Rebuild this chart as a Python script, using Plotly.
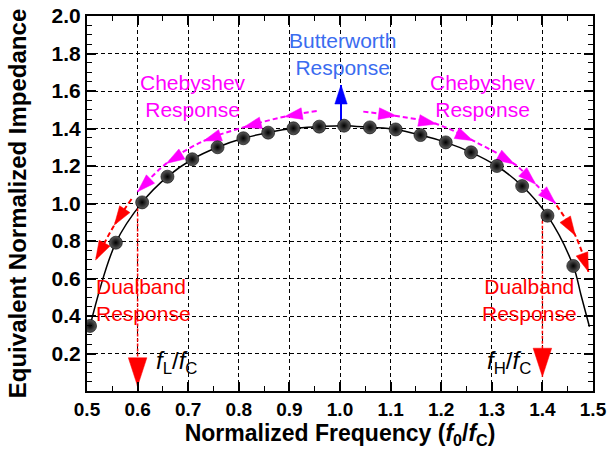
import plotly.graph_objects as go

# ---- data ----
freq = [0.506, 0.557, 0.609, 0.659, 0.708, 0.758, 0.809, 0.858, 0.908, 0.959,
        1.008, 1.059, 1.110, 1.159, 1.209, 1.259, 1.310, 1.360, 1.410, 1.461]
imp = [0.347, 0.791, 1.006, 1.143, 1.236, 1.300, 1.348, 1.378, 1.401, 1.410,
       1.415, 1.406, 1.395, 1.365, 1.326, 1.273, 1.200, 1.093, 0.935, 0.667]
curve_tail_x = [1.476, 1.493]
curve_tail_y = [0.515, 0.343]

cheb_left_x = [0.954, 0.890, 0.809, 0.730, 0.657, 0.600]
cheb_left_y = [1.493, 1.463, 1.406, 1.333, 1.214, 1.063]
cheb_right_x = [1.046, 1.112, 1.191, 1.263, 1.345, 1.387, 1.426]
cheb_right_y = [1.490, 1.467, 1.424, 1.335, 1.210, 1.102, 1.000]
dual_left_x = [0.588, 0.554, 0.517]
dual_left_y = [1.024, 0.885, 0.699]
dual_right_x = [1.428, 1.465, 1.491]
dual_right_y = [0.990, 0.830, 0.636]
fl_x = [0.6, 0.6]
fl_y = [1.0, 0.025]
fh_x = [1.4, 1.4]
fh_y = [0.935, 0.076]
butter_x = [1.002, 1.002]
butter_y = [1.43, 1.632]

x_ticks = [0.5, 0.6, 0.7, 0.8, 0.9, 1.0, 1.1, 1.2, 1.3, 1.4, 1.5]
x_ticktext = ["0.5", "0.6", "0.7", "0.8", "0.9", "1.0", "1.1", "1.2", "1.3", "1.4", "1.5"]
y_ticks = [0.2, 0.4, 0.6, 0.8, 1.0, 1.2, 1.4, 1.6, 1.8, 2.0]
y_ticktext = ["0.2", "0.4", "0.6", "0.8", "1.0", "1.2", "1.4", "1.6", "1.8", "2.0"]

MAGENTA = "#ff00ff"
RED = "#ff0000"
BLUE_TXT = "#3a6cf0"
BLUE = "#0000ff"
FONT = "Liberation Sans, Arial, sans-serif"

fig = go.Figure()

# smooth curve
fig.add_trace(go.Scatter(
    x=freq + curve_tail_x, y=imp + curve_tail_y, mode="lines",
    line=dict(color="black", width=1.5, shape="spline"),
    hoverinfo="skip", showlegend=False))


def arrow_path(xs, ys, color, head, width, dash):
    sizes = [0] + [head] * (len(xs) - 1)
    fig.add_trace(go.Scatter(
        x=xs, y=ys, mode="lines+markers",
        line=dict(color=color, width=width, dash=dash, shape="spline"),
        marker=dict(symbol="arrow", size=sizes, color=color, opacity=1,
                    angleref="previous", line=dict(width=0.5, color=color)),
        hoverinfo="skip", showlegend=False))


arrow_path(cheb_left_x, cheb_left_y, MAGENTA, 19, 2, "5px,3px")
arrow_path(cheb_right_x, cheb_right_y, MAGENTA, 19, 2, "5px,3px")
arrow_path(dual_left_x, dual_left_y, RED, 20, 2, "5px,3px")
arrow_path(dual_right_x, dual_right_y, RED, 20, 2, "5px,3px")
arrow_path(fl_x, fl_y, RED, 30, 1.5, "3px,2px")
arrow_path(fh_x, fh_y, RED, 30, 1.5, "3px,2px")
arrow_path(butter_x, butter_y, BLUE, 20, 2, "solid")

# data markers (spheres)
fig.add_trace(go.Scatter(
    x=freq, y=imp, mode="markers",
    marker=dict(size=13, color="#5c5c5c",
                gradient=dict(type="radial", color="black"),
                line=dict(color="black", width=0.6)),
    hoverinfo="skip", showlegend=False))

annots = [
    dict(x=1.005, y=1.797, text="Butterworth<br>Response", color=BLUE_TXT, xanchor="center", size=21),
    dict(x=0.710, y=1.571, text="Chebyshev<br>Response", color=MAGENTA, xanchor="center", size=21),
    dict(x=1.282, y=1.571, text="Chebyshev<br>Response", color=MAGENTA, xanchor="center", size=21),
    dict(x=0.513, y=0.485, text="Dualband<br>Response", color=RED, xanchor="left", size=21),
    dict(x=1.374, y=0.485, text="Dualband<br>Response", color=RED, xanchor="center", size=21),
    dict(x=0.677, y=0.15, text="<i>f</i><sub>L</sub>/<i>f</i><sub>C</sub>", color="black", xanchor="center", size=24),
    dict(x=1.334, y=0.15, text="<i>f</i><sub>H</sub>/<i>f</i><sub>C</sub>", color="black", xanchor="center", size=24),
]
for a in annots:
    fig.add_annotation(x=a["x"], y=a["y"], xref="x", yref="y", text=a["text"],
                       showarrow=False, xanchor=a["xanchor"], yanchor="middle",
                       align="center" if a["xanchor"] == "center" else "left",
                       font=dict(family=FONT, size=a["size"], color=a["color"]))

axis_common = dict(
    showline=True, linecolor="black", linewidth=2, mirror="ticks",
    ticks="inside", ticklen=9, tickwidth=1.5, tickcolor="black",
    showgrid=True, gridcolor="black", gridwidth=1, griddash="4px,3px",
    zeroline=False,
)

fig.update_xaxes(
    range=[0.5, 1.5], tickmode="array", tickvals=x_ticks, ticktext=x_ticktext,
    tickfont=dict(family=FONT, size=19, color="black", weight="bold"),
    minor=dict(tickmode="linear", tick0=0.5, dtick=0.05, ticks="inside",
               ticklen=5, tickwidth=1.2, tickcolor="black", showgrid=False),
    title=dict(text="Normalized Frequency (<i>f</i><sub>0</sub>/<i>f</i><sub>C</sub>)",
               font=dict(family=FONT, size=23, color="black", weight="bold"),
               standoff=3),
    automargin=False,
    **axis_common)

fig.update_yaxes(
    range=[0, 2.0], tickmode="array", tickvals=y_ticks, ticktext=y_ticktext,
    tickfont=dict(family=FONT, size=21, color="black", weight="bold"),
    minor=dict(tickmode="linear", tick0=0, dtick=0.05, ticks="inside",
               ticklen=5, tickwidth=1.2, tickcolor="black", showgrid=False),
    title=dict(text="Equivalent Normalized Impedance",
               font=dict(family=FONT, size=24, color="black", weight="bold"),
               standoff=18),
    automargin=False,
    **axis_common)

fig.update_layout(
    width=609, height=453,
    margin=dict(l=87, r=16, t=16, b=62),
    paper_bgcolor="white", plot_bgcolor="white",
    showlegend=False,
)

fig.write_html("out.html")
